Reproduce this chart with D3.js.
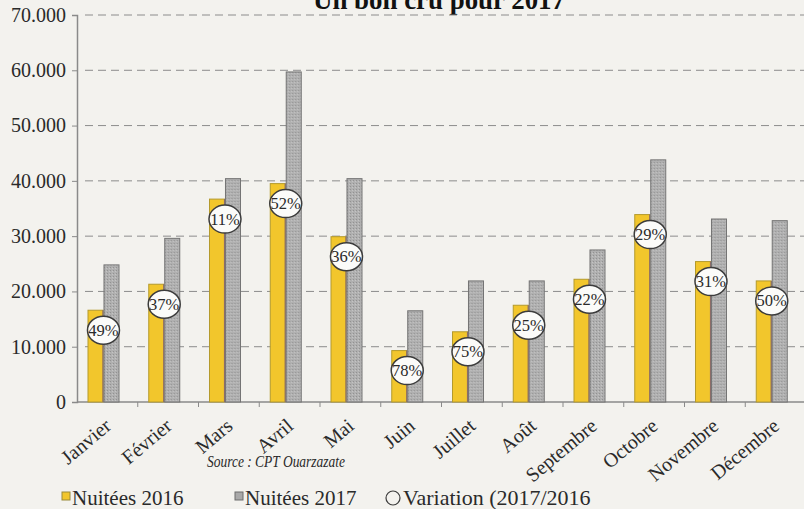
<!DOCTYPE html>
<html>
<head>
<meta charset="utf-8">
<script src="https://cdn.jsdelivr.net/npm/d3@7"></script>
<style>
  body { margin: 0; background: #f3f2ee; }
  svg { display: block; }
  text { font-family: "Liberation Serif", "Times New Roman", serif; fill: #2a2a2a; }
</style>
</head>
<body>
<div class="container"></div>
<script>
var W = 804, H = 509;

// données
var months = ["Janvier","Février","Mars","Avril","Mai","Juin","Juillet","Août","Septembre","Octobre","Novembre","Décembre"];
var nuitees2016 = [16600,21300,36700,39500,29900,9300,12700,17500,22200,33900,25400,21900];
var nuitees2017 = [24800,29600,40400,59700,40400,16500,21900,21900,27500,43800,33100,32800];
var variation = ["49%","37%","11%","52%","36%","78%","75%","25%","22%","29%","31%","50%"];
var yTicks = [0,10000,20000,30000,40000,50000,60000,70000];
var series = ["2016","2017"];
var legendLabels = ["Nuitées 2016","Nuitées 2017","Variation (2017/2016"];

var rows = months.map(function(m, i){
  return {month: m, v2016: nuitees2016[i], v2017: nuitees2017[i], pct: variation[i]};
});

var mLeft = 77, mBottom = 402, mTop = 15, band = 60.75;

var svg = d3.select(".container").append("svg").attr("width", W).attr("height", H);

var defs = svg.append("defs");
var pat = defs.append("pattern").attr("id","hatch").attr("patternUnits","userSpaceOnUse")
  .attr("width",3).attr("height",3);
pat.append("rect").attr("width",3).attr("height",3).attr("fill","#b0b0b0");
pat.append("rect").attr("x",0).attr("y",0).attr("width",1).attr("height",1).attr("fill","#929292");
pat.append("rect").attr("x",2).attr("y",1).attr("width",1).attr("height",1).attr("fill","#c4c4c4");

var x = d3.scaleBand().domain(months).range([mLeft, mLeft + band*12]);
var x1 = d3.scaleBand().domain(series).range([11, 42]).paddingInner(0.06);
var y = d3.scaleLinear().domain([0, 70000]).range([mBottom, mTop]);

var fr = d3.formatLocale({decimal: ",", thousands: ".", grouping: [3], currency: ["",""]});
var fmt = fr.format(",");

// titre (coupé en haut)
svg.append("text").attr("x", 313).attr("y", 9)
  .attr("textLength", 252).attr("lengthAdjust","spacingAndGlyphs")
  .style("font-size","27px").style("font-weight","bold").style("fill","#111")
  .text("Un bon cru pour 2017");

// grille
svg.append("g").selectAll("line").data(yTicks.slice(1)).enter().append("line")
  .attr("x1", mLeft + 8).attr("x2", W)
  .attr("y1", function(d){ return y(d); }).attr("y2", function(d){ return y(d); })
  .attr("stroke","#8c8c8c").attr("stroke-width",1).attr("stroke-dasharray","8,5");

// axe Y
var yAxis = d3.axisLeft(y).tickValues(yTicks).tickSize(5).tickPadding(6)
  .tickFormat(function(d){ return d === 0 ? "0" : fmt(d); });
var gy = svg.append("g").attr("transform","translate(" + mLeft + ",0)").call(yAxis);
gy.select(".domain").attr("stroke","#8a8a8a").attr("stroke-width",1.5);
gy.selectAll(".tick line").attr("stroke","#8a8a8a");
gy.selectAll(".tick text").style("font-size","20px").style("font-family","Liberation Serif, serif").attr("fill","#2a2a2a");

// axe X
var gx = svg.append("g").attr("transform","translate(0," + mBottom + ")");
gx.append("line").attr("x1", mLeft).attr("x2", W).attr("stroke","#8a8a8a").attr("stroke-width",1.5);
gx.selectAll(".tk").data(months).enter().append("line").attr("class","tk")
  .attr("x1", function(d){ return x(d) + x.bandwidth(); })
  .attr("x2", function(d){ return x(d) + x.bandwidth(); })
  .attr("y1", 0).attr("y2", 5).attr("stroke","#8a8a8a");

// barres
var g = svg.append("g").selectAll("g").data(rows).enter().append("g")
  .attr("transform", function(d){ return "translate(" + x(d.month) + ",0)"; });

g.append("rect").attr("x", x1("2016")).attr("width", x1.bandwidth())
  .attr("y", function(d){ return y(d.v2016); })
  .attr("height", function(d){ return mBottom - y(d.v2016); })
  .attr("fill","#f2c62c").attr("stroke","#b49a2c").attr("stroke-width",1);
g.append("line").attr("x1", x1("2016") + x1.bandwidth()).attr("x2", x1("2016") + x1.bandwidth())
  .attr("y1", function(d){ return y(d.v2016); }).attr("y2", mBottom)
  .attr("stroke","#8d6c68").attr("stroke-width",1.2);

g.append("rect").attr("x", x1("2017")).attr("width", x1.bandwidth())
  .attr("y", function(d){ return y(d.v2017); })
  .attr("height", function(d){ return mBottom - y(d.v2017); })
  .attr("fill","url(#hatch)").attr("stroke","#747474").attr("stroke-width",1);

// cercles de variation
var cx = x1("2017") - 0.5;
g.append("ellipse").attr("cx", cx).attr("cy", function(d){ return y(d.v2016) + 20; })
  .attr("rx", 16).attr("ry", 14)
  .attr("fill","#fbfbf9").attr("stroke","#3c3c3c").attr("stroke-width",1.5);
g.append("text").attr("x", cx).attr("y", function(d){ return y(d.v2016) + 25.5; })
  .attr("text-anchor","middle").style("font-size","16.5px")
  .text(function(d){ return d.pct; });

// libellés des mois
svg.append("g").selectAll("text").data(months).enter().append("text")
  .attr("transform", function(d){ return "translate(" + (x(d) + x.bandwidth()/2 + 5) + ",428) rotate(-40)"; })
  .attr("text-anchor","end").style("font-size","20px")
  .text(function(d){ return d; });

// source
svg.append("text").attr("x", 207).attr("y", 467)
  .attr("textLength", 138).attr("lengthAdjust","spacingAndGlyphs")
  .style("font-size","16px").style("font-style","italic")
  .text("Source : CPT Ouarzazate");

// légende
var lg = svg.append("g");
lg.append("rect").attr("x", 62).attr("y", 492).attr("width", 8).attr("height", 8)
  .attr("fill","#f2c62c").attr("stroke","#9a8a3a");
lg.append("text").attr("x", 72).attr("y", 505).style("font-size","21px").text(legendLabels[0]);
lg.append("rect").attr("x", 235).attr("y", 492).attr("width", 8).attr("height", 8)
  .attr("fill","#a9a9a9").attr("stroke","#6d6d6d");
lg.append("text").attr("x", 245).attr("y", 505).style("font-size","21px").text(legendLabels[1]);
lg.append("circle").attr("cx", 393).attr("cy", 498).attr("r", 7)
  .attr("fill","none").attr("stroke","#3c3c3c").attr("stroke-width",1.2);
lg.append("text").attr("x", 403).attr("y", 505).style("font-size","22px").text(legendLabels[2]);
</script>
</body>
</html>
